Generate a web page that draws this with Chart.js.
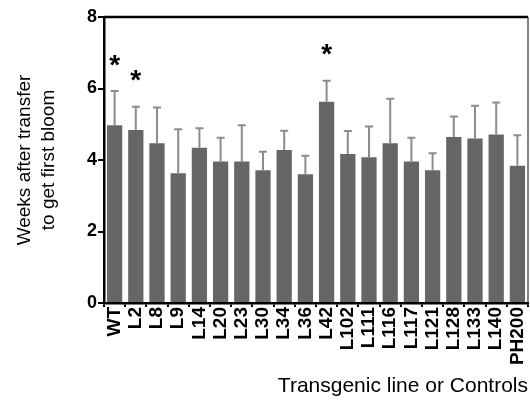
<!DOCTYPE html>
<html>
<head>
<meta charset="utf-8">
<script src="https://cdn.jsdelivr.net/npm/chart.js@4/dist/chart.umd.min.js"></script>
<style>
  html, body { margin: 0; padding: 0; background: #fff; }
  #wrap { width: 530px; height: 403px; }
</style>
</head>
<body>
<div id="wrap"><canvas id="bloomChart" width="530" height="403"></canvas></div>
<script>
const lines = ['WT', 'L2', 'L8', 'L9', 'L14', 'L20', 'L23', 'L30', 'L34', 'L36', 'L42',
    'L102', 'L111', 'L116', 'L117', 'L121', 'L128', 'L133', 'L140', 'PH200'];
const weeks = [4.97, 4.84, 4.47, 3.63, 4.34, 3.96, 3.96, 3.71, 4.28, 3.60, 5.63,
    4.17, 4.08, 4.47, 3.96, 3.71, 4.64, 4.60, 4.71, 3.84];
const weeksErr = [0.96, 0.65, 1.00, 1.23, 0.55, 0.66, 1.01, 0.52, 0.54, 0.52, 0.59,
    0.64, 0.86, 1.24, 0.66, 0.48, 0.58, 0.92, 0.90, 0.85];
// significance marks: category index and height of the star
const starIdx = [0, 1, 10];
const starAt = [6.77, 6.35, 7.06];
const yTicks = [0, 2, 4, 6, 8];

const FONT = '"Liberation Sans", Arial, sans-serif';

// upper error bars, stars and the top/right frame
const extras = {
    id: 'extras',
    afterDatasetsDraw(chart) {
        const ctx = chart.ctx;
        const x = chart.scales.x;
        const y = chart.scales.y;
        const area = chart.chartArea;

        ctx.save();
        ctx.strokeStyle = '#8c8c8c';
        ctx.lineWidth = 2;
        weeks.forEach((v, i) => {
            const px = x.getPixelForValue(i);
            const top = y.getPixelForValue(v + weeksErr[i]);
            ctx.beginPath();
            ctx.moveTo(px, y.getPixelForValue(v));
            ctx.lineTo(px, top);
            ctx.moveTo(px - 4, top);
            ctx.lineTo(px + 4, top);
            ctx.stroke();
        });

        ctx.fillStyle = '#000';
        ctx.font = 'bold 28px ' + FONT;
        ctx.textAlign = 'center';
        ctx.textBaseline = 'middle';
        starIdx.forEach((i, k) => {
            ctx.fillText('*', x.getPixelForValue(i), y.getPixelForValue(starAt[k]) + 5);
        });

        ctx.strokeStyle = '#000';
        ctx.lineWidth = 2.5;
        ctx.beginPath();
        ctx.moveTo(area.left, area.top);
        ctx.lineTo(area.right, area.top);
        ctx.stroke();
        ctx.lineWidth = 1.2;
        ctx.strokeStyle = '#333';
        ctx.beginPath();
        ctx.moveTo(area.right, area.top);
        ctx.lineTo(area.right, area.bottom);
        ctx.stroke();
        ctx.restore();
    }
};

new Chart(document.getElementById('bloomChart').getContext('2d'), {
    type: 'bar',
    data: {
        labels: lines,
        datasets: [{
            data: weeks,
            backgroundColor: '#666666',
            borderWidth: 0,
            barPercentage: 0.72,
            categoryPercentage: 1.0
        }]
    },
    options: {
        responsive: false,
        animation: false,
        layout: { padding: { top: 17, right: 2, left: 0, bottom: 0 } },
        plugins: {
            legend: { display: false },
            tooltip: { enabled: false }
        },
        scales: {
            x: {
                afterFit(scale) {
                    scale.height = 100;
                    scale.paddingLeft = 0;
                    scale.paddingRight = 0;
                },
                grid: {
                    display: true,
                    drawOnChartArea: false,
                    tickLength: 4,
                    tickColor: '#000',
                    lineWidth: 2
                },
                border: { color: '#000', width: 2.5 },
                ticks: {
                    color: '#000',
                    font: { family: FONT, size: 19, weight: 'bold' },
                    minRotation: 90,
                    maxRotation: 90,
                    autoSkip: false,
                    padding: 0
                },
                title: {
                    display: true,
                    text: 'Transgenic line or Controls',
                    align: 'end',
                    color: '#000',
                    font: { family: FONT, size: 21 },
                    padding: { top: 0, bottom: 4 }
                }
            },
            y: {
                min: 0,
                max: 8,
                afterFit(scale) { scale.width = 104; },
                afterBuildTicks(axis) {
                    axis.ticks = yTicks.map(v => ({ value: v }));
                },
                grid: {
                    display: true,
                    drawOnChartArea: false,
                    tickLength: 6,
                    tickColor: '#000',
                    lineWidth: 2
                },
                border: { color: '#000', width: 2.5 },
                ticks: {
                    color: '#000',
                    font: { family: FONT, size: 18, weight: 'bold' },
                    padding: 1
                },
                title: {
                    display: true,
                    text: ['Weeks after transfer', 'to get first bloom'],
                    color: '#000',
                    font: { family: FONT, size: 19, lineHeight: 1.3 },
                    padding: { top: 12, bottom: 0 }
                }
            }
        }
    },
    plugins: [extras]
});
</script>
</body>
</html>
